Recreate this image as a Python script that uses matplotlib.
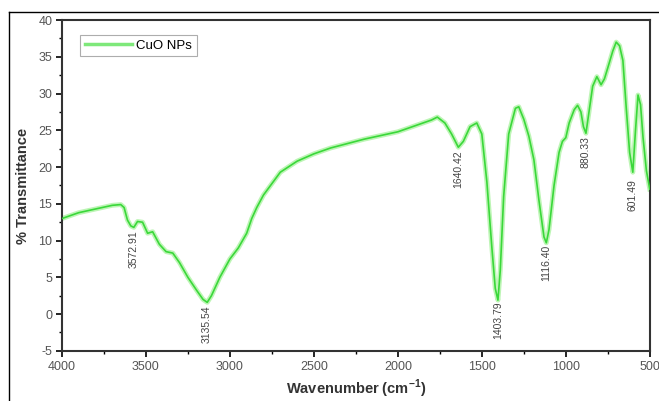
import numpy as np
import matplotlib
matplotlib.use("Agg")
import matplotlib.pyplot as plt
from matplotlib.lines import Line2D
from matplotlib.ticker import MultipleLocator

plt.rcParams['font.family'] = ['Liberation Sans', 'DejaVu Sans']
plt.rcParams['axes.unicode_minus'] = False

# FTIR spectrum of CuO NPs
wavenumber = [4000, 3900, 3800, 3700, 3650, 3630, 3610, 3590, 3572, 3550,
              3520, 3490, 3460, 3420, 3380, 3340, 3300, 3250, 3200, 3160,
              3135, 3110, 3060, 3000, 2950, 2900, 2870, 2840, 2800, 2700,
              2600, 2500, 2400, 2300, 2200, 2100, 2000, 1900, 1800, 1765,
              1720, 1680, 1640, 1610, 1570, 1530, 1500, 1470, 1440, 1420,
              1404, 1390, 1370, 1340, 1300, 1280, 1250, 1220, 1190, 1160,
              1130, 1116, 1100, 1070, 1040, 1020, 1000, 980, 950, 930,
              910, 895, 880, 865, 840, 815, 790, 770, 750, 720,
              700, 680, 660, 640, 620, 601, 585, 570, 555, 540,
              520, 500]
transmittance = [13.0, 13.8, 14.3, 14.8, 14.9, 14.5, 12.8, 12.0, 11.8, 12.6,
                 12.5, 11.0, 11.2, 9.5, 8.5, 8.3, 7.0, 5.0, 3.3, 2.0,
                 1.6, 2.5, 5.0, 7.5, 9.0, 11.0, 13.0, 14.5, 16.2, 19.3,
                 20.8, 21.8, 22.6, 23.2, 23.8, 24.3, 24.8, 25.6, 26.4, 26.8,
                 26.0, 24.5, 22.7, 23.5, 25.5, 26.0, 24.5, 18.0, 9.0, 3.5,
                 1.9, 6.0, 16.0, 24.5, 28.0, 28.2, 26.5, 24.2, 21.0, 15.5,
                 10.5, 9.7, 11.5, 17.5, 22.0, 23.5, 24.0, 26.0, 27.8, 28.4,
                 27.5, 25.5, 24.6, 27.0, 31.0, 32.3, 31.2, 32.0, 33.5, 35.8,
                 37.0, 36.5, 34.5, 28.0, 22.0, 19.3, 25.0, 29.8, 28.5, 24.0,
                 19.5, 17.0]

# peak annotations: position, label
peak_wn = [3572.91, 3135.54, 1640.42, 1403.79, 1116.40, 880.33, 601.49]
peak_y = [11.4, 1.2, 22.3, 1.8, 9.4, 24.2, 18.3]
peak_labels = ['3572.91', '3135.54', '1640.42', '1403.79', '1116.40', '880.33', '601.49']

fig = plt.figure(figsize=(6.59, 4.01), dpi=100)
ax = fig.add_axes([0.094, 0.125, 0.892, 0.825])

# soft glow under the line, like the scanned original
ax.plot(wavenumber, transmittance, color='#bdf5b5', linewidth=3.5, zorder=2)
ax.plot(wavenumber, transmittance, color='#3ad83a', linewidth=1.2, zorder=3,
        label='CuO NPs')

for w, y, s in zip(peak_wn, peak_y, peak_labels):
    ax.text(w, y, s, rotation=90, ha='center', va='top', fontsize=7.5,
            color='#444444')

ax.set_xlim(4000, 500)
ax.set_ylim(-5, 40)
ax.xaxis.set_major_locator(MultipleLocator(500))
ax.xaxis.set_minor_locator(MultipleLocator(250))
ax.yaxis.set_major_locator(MultipleLocator(5))
ax.yaxis.set_minor_locator(MultipleLocator(2.5))
ax.tick_params(which='major', direction='out', length=4, width=1.2,
               labelsize=9, labelcolor='#555555', pad=3)
ax.tick_params(which='minor', direction='out', length=2.5, width=1.0)

for sp in ax.spines.values():
    sp.set_linewidth(1.5)
    sp.set_color('#333333')

ax.set_xlabel('Wavenumber (cm$^{\\mathregular{-1}}$)', fontsize=10.5,
              fontweight='bold', color='#333333', labelpad=4)
ax.set_ylabel('% Transmittance', fontsize=10.5, fontweight='bold',
              color='#333333', labelpad=6)

leg = ax.legend(loc='upper left', bbox_to_anchor=(0.02, 0.975), fontsize=9.5,
                frameon=True, fancybox=False, handlelength=3.6,
                borderpad=0.35, handletextpad=0.3)
leg.get_frame().set_edgecolor('#999999')
leg.get_frame().set_linewidth(0.8)
for ln in leg.get_lines():
    ln.set_linewidth(2.5)
    ln.set_color('#7ee87a')

# thin border of the scanned figure (left and top)
fig.add_artist(Line2D([9 / 659, 9 / 659], [0, 1 - 12 / 401], color='black',
                      linewidth=1.0, transform=fig.transFigure))
fig.add_artist(Line2D([9 / 659, 1], [1 - 12 / 401, 1 - 12 / 401], color='black',
                      linewidth=1.0, transform=fig.transFigure))

fig.savefig('out.png', dpi=100)
